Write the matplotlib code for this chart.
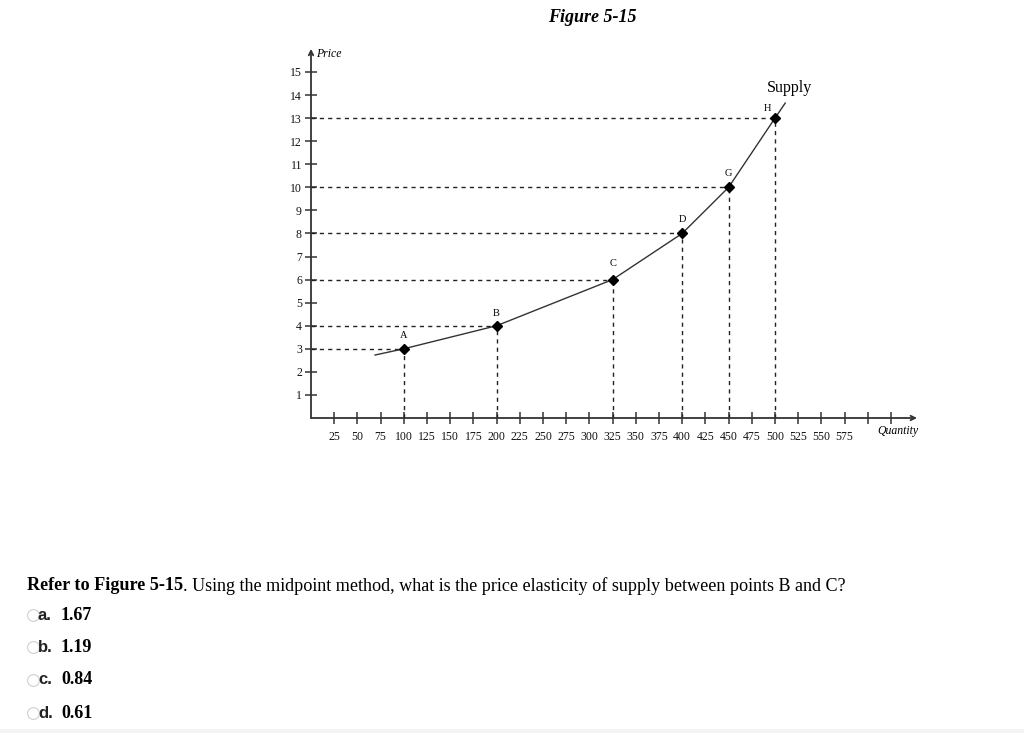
import matplotlib
matplotlib.use('Agg')
import matplotlib.pyplot as plt
from matplotlib.lines import Line2D
from matplotlib.patches import Rectangle

# supply schedule points
point_q = [100, 200, 325, 400, 450, 500]
point_p = [3, 4, 6, 8, 10, 13]
point_names = ['A', 'B', 'C', 'D', 'G', 'H']

# supply curve (including the short extensions past A and H)
curve_q = [69, 100, 200, 325, 400, 450, 500, 511]
curve_p = [2.73, 3, 4, 6, 8, 10, 13, 13.65]

x_ticks = list(range(25, 650, 25))
x_labels = [str(t) if t <= 575 else '' for t in x_ticks]
y_ticks = list(range(1, 16))

question = "Refer to Figure 5-15"
question_rest = ". Using the midpoint method, what is the price elasticity of supply between points B and C?"
opt_letters = ['a.', 'b.', 'c.', 'd.']
opt_values = ['1.67', '1.19', '0.84', '0.61']

W, H = 1024, 733
fig = plt.figure(figsize=(W / 100, H / 100), dpi=100)

def fx(px):
    return px / W

def fy(py):
    return 1 - py / H

# axes placed in pixels: origin at (311, 418), 0.928 px per unit of Q, 23.07 px per unit of P
x_max, y_max = 653, 16
ax = fig.add_axes([fx(311), fy(418), x_max * 0.928 / W, y_max * 23.07 / H])
ax.set_xlim(0, x_max)
ax.set_ylim(0, y_max)
for s in ['top', 'right', 'left', 'bottom']:
    ax.spines[s].set_visible(False)

# axes with open arrow heads
for tip in [(0, y_max), (x_max, 0)]:
    ax.annotate('', xy=tip, xytext=(0, 0),
                arrowprops=dict(arrowstyle='->', color='#333333', lw=1.3, shrinkA=0, shrinkB=0,
                                mutation_scale=8))

tick_font = dict(family='Liberation Serif', size=8.5)
ax.set_xticks(x_ticks)
ax.set_xticklabels(x_labels, **tick_font)
ax.set_yticks(y_ticks)
ax.set_yticklabels([str(t) for t in y_ticks], **tick_font)
ax.tick_params(direction='inout', length=9, width=1.1, color='#333333', labelcolor='#111111')
ax.tick_params(axis='x', pad=5)
ax.tick_params(axis='y', pad=2)

# dashed guides
for q, p in zip(point_q, point_p):
    ax.plot([0, q], [p, p], linestyle=(0, (3, 3)), color='#222222', lw=1)
    ax.plot([q, q], [0, p], linestyle=(0, (3, 3)), color='#222222', lw=1)

ax.plot(curve_q, curve_p, color='#333333', lw=1)
ax.plot(point_q, point_p, linestyle='none', marker='D', markersize=5, color='black')

# label offsets in pixels (dx, dy up)
label_off = {'A': (0, 13), 'B': (0, 12), 'C': (0, 16), 'D': (0, 14), 'G': (0, 14), 'H': (-8, 10)}
for q, p, n in zip(point_q, point_p, point_names):
    dx, dy = label_off[n]
    ax.annotate(n, (q, p), xytext=(dx * 0.72, dy * 0.72), textcoords='offset points',
                ha='center', va='center', family='Liberation Serif', size=7.5)

fig.text(fx(790), fy(88), 'Supply', ha='center', va='center', family='Liberation Serif', size=11.5)
fig.text(fx(316), fy(54), 'Price', ha='left', va='center', family='Liberation Serif',
         style='italic', size=8.5)
fig.text(fx(898), fy(431), 'Quantity', ha='center', va='center', family='Liberation Serif',
         style='italic', size=8.5)

# title
fig.text(fx(592), fy(18), 'Figure 5-15', ha='center', va='center', family='Liberation Serif',
         weight='bold', style='italic', size=13)

# question text
fig.canvas.draw()
renderer = fig.canvas.get_renderer()
t1 = fig.text(fx(27), fy(586), question, ha='left', va='center', family='Liberation Serif',
              weight='bold', size=13.1)
bb = t1.get_window_extent(renderer)
fig.text(bb.x1 / W, fy(586), question_rest, ha='left', va='center', family='Liberation Serif',
         size=13.1)

opt_y = [615, 647, 680, 713]
for letter, val, y in zip(opt_letters, opt_values, opt_y):
    fig.add_artist(Line2D([fx(33)], [fy(y)], marker='o', markersize=8.5, markerfacecolor='white',
                          markeredgecolor='#d0d0d0', markeredgewidth=0.8, transform=fig.transFigure))
    fig.text(fx(38), fy(y), letter, ha='left', va='center', family='Liberation Sans',
             weight='bold', size=12, color='#222222')
    fig.text(fx(61), fy(y), val, ha='left', va='center', family='Liberation Serif',
             weight='bold', size=13)

fig.add_artist(Rectangle((0, 0), 1, 4 / H, transform=fig.transFigure, color='#f4f4f4', lw=0))

fig.savefig('out.png', dpi=100)
